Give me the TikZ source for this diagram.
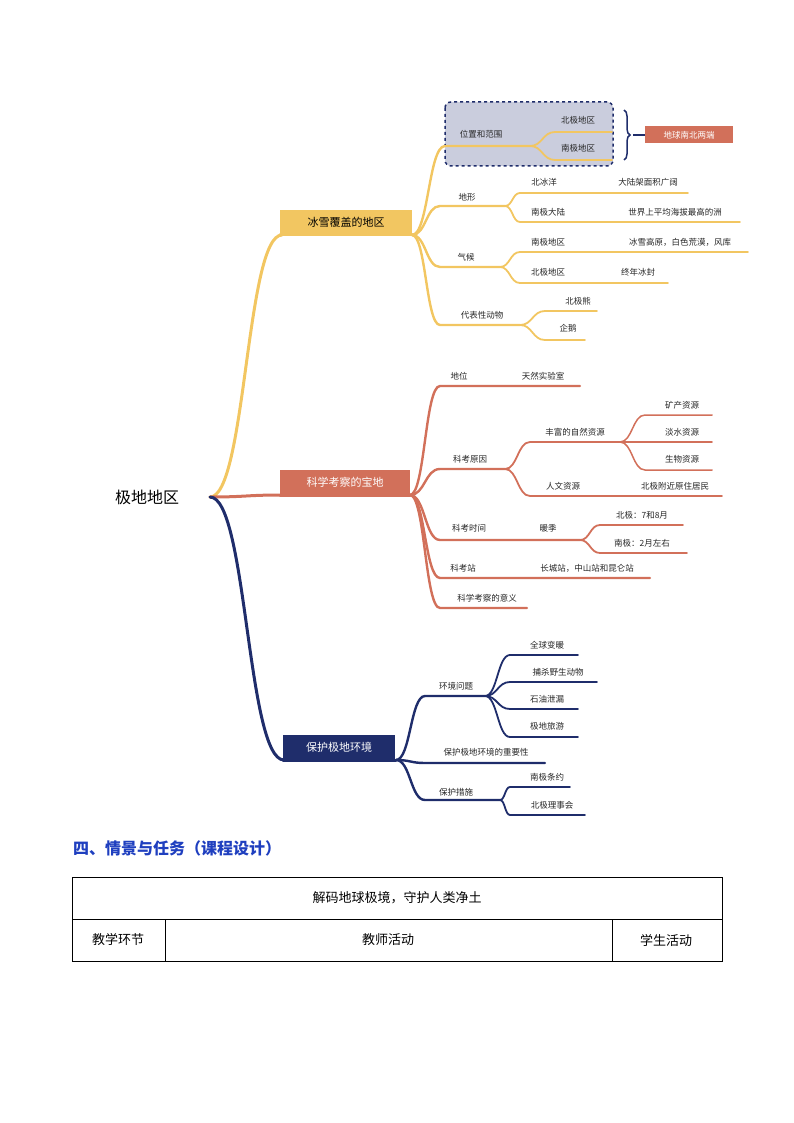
\documentclass[tikz,border=0pt]{standalone}
\usepackage{fontspec}
\setmainfont{Noto Sans CJK SC}
\usetikzlibrary{decorations.pathreplacing}
\definecolor{yel}{HTML}{F2C661}
\definecolor{red}{HTML}{D2705A}
\definecolor{nav}{HTML}{1F2D6B}
\definecolor{lil}{HTML}{CACDDD}
\definecolor{hd}{HTML}{1F3FBF}
\newcommand\mbr[6][]{\draw[#1] (#2,#3) .. controls ({(#2+#4)/2},#3) and ({(#2+#4)/2},#5) .. (#4,#5) -- (#6,#5);}
\begin{document}
\begin{tikzpicture}[x=1pt,y=-1pt,
  lab/.style={font=\fontsize{8.5}{9}\selectfont,text=black!85,inner sep=0pt},
  Y/.style={yel,line width=2.4pt,line cap=round},
  R/.style={red,line width=2.4pt,line cap=round},
  B/.style={nav,line width=2.4pt,line cap=round},
  tb/.style={font=\fontsize{13}{15}\selectfont,inner sep=0pt}]
\useasboundingbox (0,0) rectangle (794,1123);
% root
\node[font=\fontsize{16}{18}\selectfont,inner sep=0pt] (root) at (147,497) {极地地区};
% dashed box
\draw[nav,dashed,line width=1.5pt,fill=lil,rounded corners=6pt] (445,102) rectangle (613,166);
% main branches
\mbr[Y,line width=3pt]{210}{497}{282}{235}{282}
\mbr[R,line width=3pt]{210}{497}{282}{495}{282}
\mbr[B,line width=3pt]{210}{497}{284}{760}{284}
\node[fill=yel,minimum width=132pt,minimum height=24pt,inner sep=0pt,font=\fontsize{11}{12}\selectfont] (y) at (346,222) {冰雪覆盖的地区};
\node[fill=red,minimum width=130pt,minimum height=24pt,inner sep=0pt,text=white,font=\fontsize{11}{12}\selectfont] (r) at (345,482) {科学考察的宝地};
\node[fill=nav,minimum width=112pt,minimum height=24pt,inner sep=0pt,text=white,font=\fontsize{11}{12}\selectfont] (b) at (339,747) {保护极地环境};
\draw[Y,line width=3pt] (280,235) -- (412,235);
\draw[R,line width=3pt] (280,495) -- (410,495);
\draw[B,line width=3pt] (283,760) -- (396,760);
% yellow
\mbr[Y]{412}{235}{445}{146}{530}
\mbr[Y,line width=1.8pt]{530}{146}{555}{132}{612}
\mbr[Y,line width=1.8pt]{530}{146}{555}{160}{612}
\node[lab] at (481,134) {位置和范围};
\node[lab] at (578,120) {北极地区};
\node[lab] at (578,148) {南极地区};
\draw[nav,line width=1.5pt,decorate,decoration={brace,amplitude=6pt}] (624,110) -- (624,160);
\draw[nav,line width=1.5pt] (633,135) -- (645,135);
\node[fill=red,text=white,minimum width=88pt,minimum height=17pt,inner sep=0pt,font=\fontsize{8.5}{9}\selectfont] (e) at (689,135) {地球南北两端};
\mbr[Y]{412}{235}{440}{206}{505}
\mbr[Y,line width=1.8pt]{505}{206}{520}{193}{688}
\mbr[Y,line width=1.8pt]{505}{206}{520}{222}{740}
\node[lab] at (467,197) {地形};
\node[lab] at (544,182) {北冰洋};
\node[lab] at (648,182) {大陆架面积广阔};
\node[lab] at (548,212) {南极大陆};
\node[lab] at (675,212) {世界上平均海拔最高的洲};
\mbr[Y]{412}{235}{440}{267}{500}
\mbr[Y,line width=1.8pt]{500}{267}{520}{252}{748}
\mbr[Y,line width=1.8pt]{500}{267}{520}{283}{668}
\node[lab] at (466,257) {气候};
\node[lab] at (548,242) {南极地区};
\node[lab] at (680,242) {冰雪高原，白色荒漠，风库};
\node[lab] at (548,272) {北极地区};
\node[lab] at (638,272) {终年冰封};
\mbr[Y]{412}{235}{440}{325}{520}
\mbr[Y,line width=1.8pt]{520}{325}{545}{311}{597}
\mbr[Y,line width=1.8pt]{520}{325}{545}{340}{585}
\node[lab] at (482,315) {代表性动物};
\node[lab] at (578,301) {北极熊};
\node[lab] at (568,328) {企鹅};
% red
\mbr[R]{410}{495}{440}{386}{580}
\node[lab] at (459,376) {地位};
\node[lab] at (543,376) {天然实验室};
\mbr[R]{410}{495}{440}{469}{505}
\mbr[R,line width=1.8pt]{505}{469}{530}{442}{620}
\mbr[R,line width=1.8pt]{505}{469}{530}{496}{722}
\mbr[R,line width=1.5pt]{620}{442}{645}{415}{712}
\mbr[R,line width=1.5pt]{620}{442}{645}{442}{712}
\mbr[R,line width=1.5pt]{620}{442}{645}{470}{712}
\node[lab] at (470,459) {科考原因};
\node[lab] at (575,432) {丰富的自然资源};
\node[lab] at (682,405) {矿产资源};
\node[lab] at (682,432) {淡水资源};
\node[lab] at (682,459) {生物资源};
\node[lab] at (563,486) {人文资源};
\node[lab] at (675,486) {北极附近原住居民};
\mbr[R]{410}{495}{440}{540}{580}
\mbr[R,line width=1.8pt]{580}{540}{600}{525}{683}
\mbr[R,line width=1.8pt]{580}{540}{600}{553}{687}
\node[lab] at (469,528) {科考时间};
\node[lab] at (548,528) {暖季};
\node[lab] at (642,515) {北极：7和8月};
\node[lab] at (642,543) {南极：2月左右};
\mbr[R]{410}{495}{440}{578}{650}
\node[lab] at (463,568) {科考站};
\node[lab] at (587,568) {长城站，中山站和昆仑站};
\mbr[R]{410}{495}{440}{608}{527}
\node[lab] at (487,598) {科学考察的意义};
% blue
\mbr[B]{396}{760}{425}{696}{485}
\mbr[B,line width=1.8pt]{485}{696}{510}{655}{578}
\mbr[B,line width=1.8pt]{485}{696}{510}{682}{597}
\mbr[B,line width=1.8pt]{485}{696}{510}{709}{578}
\mbr[B,line width=1.8pt]{485}{696}{510}{737}{578}
\node[lab] at (456,686) {环境问题};
\node[lab] at (547,645) {全球变暖};
\node[lab] at (558,672) {捕杀野生动物};
\node[lab] at (547,699) {石油泄漏};
\node[lab] at (547,726) {极地旅游};
\mbr[B]{396}{760}{425}{763}{545}
\node[lab] at (486,752) {保护极地环境的重要性};
\mbr[B]{396}{760}{425}{800}{500}
\mbr[B,line width=1.8pt]{500}{800}{510}{787}{570}
\mbr[B,line width=1.8pt]{500}{800}{510}{815}{585}
\node[lab] at (456,792) {保护措施};
\node[lab] at (547,777) {南极条约};
\node[lab] at (552,805) {北极理事会};
% bottom
\node[anchor=west,inner sep=0pt,text=hd,font=\fontsize{16}{18}\selectfont\bfseries] (h) at (73,848) {四、情景与任务（课程设计）};
\draw[line width=0.6pt] (72,877) rectangle (722,961);
\draw[line width=0.6pt] (72,919) -- (722,919);
\draw[line width=0.6pt] (165,919) -- (165,961);
\draw[line width=0.6pt] (612,919) -- (612,961);
\node[tb] at (397,898) {解码地球极境，守护人类净土};
\node[tb] at (118,940) {教学环节};
\node[tb] at (388,940) {教师活动};
\node[tb] at (666,940) {学生活动};
\end{tikzpicture}
\end{document}
